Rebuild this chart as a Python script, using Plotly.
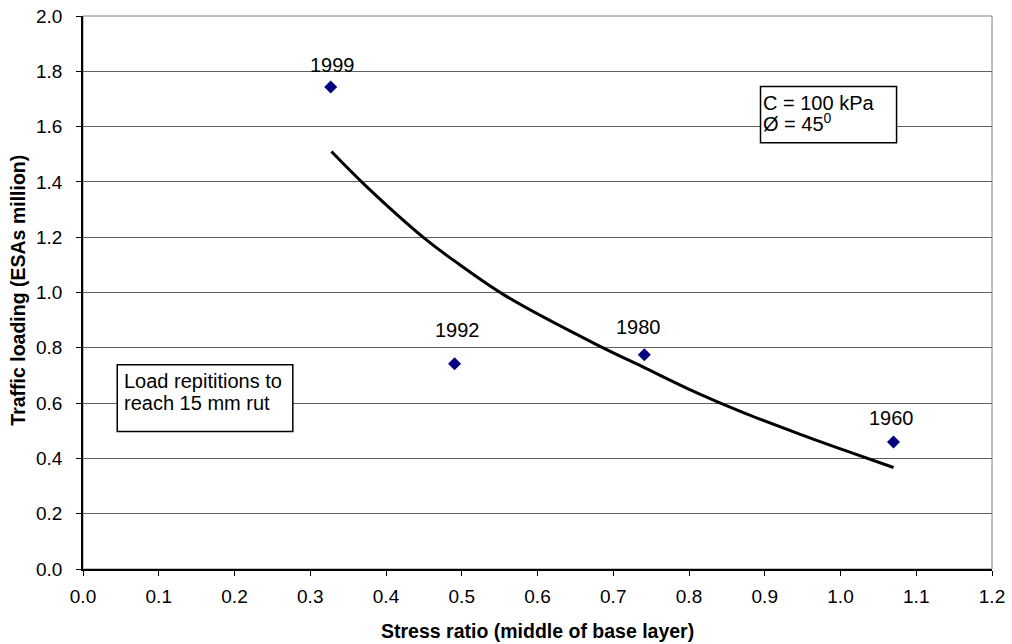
import plotly.graph_objects as go

# Observed data points
stress_ratio = [0.327, 0.4905, 0.741, 1.070]
traffic_loading = [1.743, 0.742, 0.775, 0.459]
year_labels = ["1999", "1992", "1980", "1960"]
label_shift = [22, 34, 28, 24]
label_xshift = [2, 3, -6, -2]

# Trend curve
trend_x = [0.328, 0.374, 0.453, 0.488, 0.559, 0.682, 0.739, 0.809, 0.875, 0.945, 1.015, 1.070]
trend_y = [1.510, 1.384, 1.191, 1.119, 0.986, 0.806, 0.731, 0.639, 0.562, 0.489, 0.420, 0.367]

x_ticks = [round(i * 0.1, 1) for i in range(13)]
y_ticks = [round(i * 0.2, 1) for i in range(11)]

FONT = "Liberation Sans, Arial, sans-serif"

fig = go.Figure()
fig.add_trace(go.Scatter(x=trend_x, y=trend_y, mode="lines",
                         line=dict(color="black", width=3, shape="spline", smoothing=1.0),
                         showlegend=False, hoverinfo="skip"))
fig.add_trace(go.Scatter(x=stress_ratio, y=traffic_loading, mode="markers",
                         marker=dict(symbol="diamond", color="#000080", size=10),
                         showlegend=False))

for xv, yv, lab, ys, xs in zip(stress_ratio, traffic_loading, year_labels, label_shift, label_xshift):
    fig.add_annotation(x=xv, y=yv, text=lab, showarrow=False, yshift=ys, xshift=xs,
                       font=dict(family=FONT, size=20, color="black"))

# Text boxes
fig.add_shape(type="rect", xref="x", yref="y", x0=0.8944, x1=1.0740, y0=1.5418, y1=1.7454,
              line=dict(color="black", width=1.5), fillcolor="white", layer="above")
fig.add_annotation(x=0.8957, y=1.6870, xanchor="left", yanchor="middle", text="C = 100 kPa",
                   showarrow=False, font=dict(family=FONT, size=20, color="black"))
fig.add_annotation(x=0.8957, y=1.6150, xanchor="left", yanchor="middle", text="Ø = 45<sup>0</sup>",
                   showarrow=False, font=dict(family=FONT, size=20, color="black"))

fig.add_shape(type="rect", xref="x", yref="y", x0=0.0452, x1=0.2770, y0=0.4977, y1=0.7389,
              line=dict(color="black", width=1.5), fillcolor="white", layer="above")
fig.add_annotation(x=0.0514, y=0.6785, xanchor="left", yanchor="middle", text="Load repititions to",
                   showarrow=False, font=dict(family=FONT, size=20, color="black"))
fig.add_annotation(x=0.0514, y=0.6004, xanchor="left", yanchor="middle", text="reach 15 mm rut",
                   showarrow=False, font=dict(family=FONT, size=20, color="black"))

# Axis titles
fig.add_annotation(xref="paper", yref="paper", x=0.5, y=-0.113, yanchor="middle",
                   text="<b>Stress ratio (middle of base layer)</b>", showarrow=False,
                   font=dict(family=FONT, size=19.5, color="black"))
fig.add_annotation(xref="paper", yref="paper", x=-0.0716, y=0.505, xanchor="center", yanchor="middle",
                   text="<b>Traffic loading (ESAs million)</b>", showarrow=False, textangle=-90,
                   font=dict(family=FONT, size=19.5, color="black"))

# right/top border
fig.add_shape(type="rect", xref="paper", yref="paper", x0=0, y0=0, x1=1, y1=1,
              line=dict(color="#808080", width=1), layer="below")

fig.update_layout(
    width=1012, height=644,
    margin=dict(l=83, r=20, t=16, b=75),
    plot_bgcolor="white", paper_bgcolor="white",
    font=dict(family=FONT, size=19, color="black"),
)
fig.update_xaxes(range=[0, 1.2], tickvals=x_ticks, ticktext=[f"{v:.1f}" for v in x_ticks],
                 showgrid=False, zeroline=False, showline=True, linecolor="black", linewidth=1.5,
                 ticks="outside", ticklen=5, tickcolor="black", automargin=False,
                 tickfont=dict(family=FONT, size=19), ticklabelstandoff=4)
fig.update_yaxes(range=[0, 2.0], tickvals=y_ticks, ticktext=[f"{v:.1f}" for v in y_ticks],
                 showgrid=True, gridcolor="#606060", gridwidth=1, zeroline=False,
                 showline=True, linecolor="black", linewidth=1.5,
                 ticks="outside", ticklen=5, tickcolor="black", automargin=False,
                 tickfont=dict(family=FONT, size=19), ticklabelstandoff=10)

fig.write_html("out.html", config={"displayModeBar": False},
               post_script="document.body.style.margin='0px';")
